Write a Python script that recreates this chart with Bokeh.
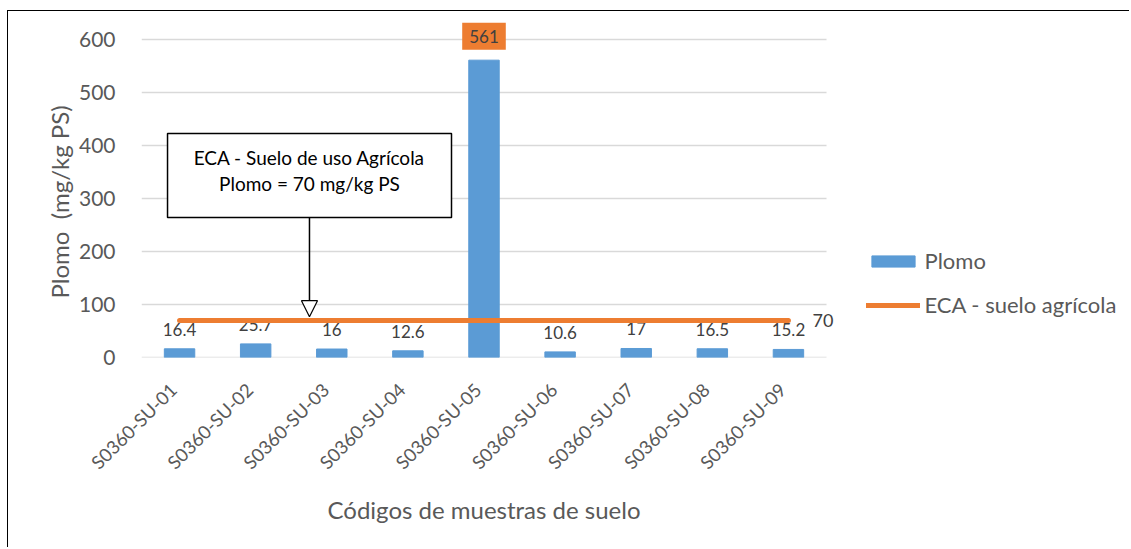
import math

from bokeh.embed import file_html
from bokeh.resources import INLINE
from bokeh.plotting import figure
from bokeh.models import (
    ColumnDataSource, FixedTicker, Range1d, Legend, LegendItem, Label,
    BoxAnnotation, Arrow, NormalHead, Title,
)
from bokeh.core.properties import value

# --- data -------------------------------------------------------------------
samples = [
    "S0360-SU-01", "S0360-SU-02", "S0360-SU-03", "S0360-SU-04", "S0360-SU-05",
    "S0360-SU-06", "S0360-SU-07", "S0360-SU-08", "S0360-SU-09",
]
plomo = [16.4, 25.7, 16.0, 12.6, 561.0, 10.6, 17.0, 16.5, 15.2]
eca_limit = 70
eca = [eca_limit] * len(samples)
y_ticks = [0, 100, 200, 300, 400, 500, 600]

# --- styling ----------------------------------------------------------------
FONT = "Lato"
BLUE = "#5b9bd5"
ORANGE = "#ed7d31"
AXIS_TXT = "#595959"
LABEL_TXT = "#404040"
GRID = "#d9d9d9"

n = len(samples)
xc = [i + 0.5 for i in range(n)]          # category centres
labels = ["" if v > 100 else f"{v:g}" for v in plomo]
src = ColumnDataSource(dict(x=xc, plomo=plomo, eca=eca, lab=labels))

# layout: the frame spans the whole area right of / above the axes so that
# the legend and outside labels stay visible; the gridded chart area covers
# the first GRID_W x GRID_H pixels of it.
FIG_W, FIG_H = 1122, 537
B_LEFT, B_RIGHT, B_TOP, B_BOTTOM = 133, 5, 4, 191
GRID_W, GRID_H = 685, 318
frame_w = FIG_W - B_LEFT - B_RIGHT
frame_h = FIG_H - B_TOP - B_BOTTOM
x_end = n * frame_w / GRID_W
y_end = y_ticks[-1] * frame_h / GRID_H

p = figure(
    width=FIG_W, height=FIG_H,
    x_range=Range1d(0, x_end), y_range=Range1d(0, y_end),
    output_backend="svg", toolbar_location=None,
    min_border_left=B_LEFT, min_border_right=B_RIGHT,
    min_border_top=B_TOP, min_border_bottom=B_BOTTOM,
    background_fill_color="white", border_fill_color="white",
)
p.outline_line_color = None
p.styles = {
    "margin-left": "7px", "margin-top": "10px",
    "border-left": "1.5px solid #000", "border-top": "1.5px solid #000",
}

# horizontal gridlines across the category area only
p.xgrid.grid_line_color = None
p.ygrid.grid_line_color = None
p.segment(x0=[0] * len(y_ticks), x1=[n] * len(y_ticks), y0=y_ticks,
          y1=y_ticks, line_color=GRID, line_width=1.3)

# y axis
p.yaxis.ticker = FixedTicker(ticks=y_ticks)
p.yaxis.axis_line_color = None
p.yaxis.major_tick_line_color = None
p.yaxis.minor_tick_line_color = None
p.yaxis.major_label_standoff = 20
p.yaxis.major_label_text_font = FONT
p.yaxis.major_label_text_font_size = "21px"
p.yaxis.major_label_text_color = AXIS_TXT

# y axis title, centred on the gridded area
p.add_layout(Title(
    text="Plomo\u00a0 (mg/kg PS)", align="left", offset=59,
    standoff=4, text_font=FONT, text_font_size="24px",
    text_font_style="normal", text_color=AXIS_TXT,
), "left")

# x axis: sample codes at the category centres (labels nudged so that
# their ends sit on the category)
label_shift = -0.08
tick_pos = [c + label_shift for c in xc]
p.xaxis.ticker = FixedTicker(ticks=tick_pos)
p.xaxis.major_label_overrides = {t: s for t, s in zip(tick_pos, samples)}
p.xaxis.axis_line_color = None
p.xaxis.major_tick_line_color = None
p.xaxis.minor_tick_line_color = None
p.xaxis.major_label_orientation = math.pi / 4
p.xaxis.major_label_standoff = 23
p.xaxis.major_label_text_font = FONT
p.xaxis.major_label_text_font_size = "18.5px"
p.xaxis.major_label_text_color = AXIS_TXT

# x axis title, centred under the category area
p.add_layout(Title(
    text="Códigos de muestras de suelo", align="left", offset=186,
    standoff=16, text_font=FONT, text_font_size="24px",
    text_font_style="normal", text_color=AXIS_TXT,
), "below")

# bars and value labels
bars = p.vbar(x="x", top="plomo", width=0.4, source=src,
              fill_color=BLUE, line_color=BLUE)
p.text(x="x", y="plomo", text="lab", source=src,
       text_font=value(FONT), text_font_size="17px", text_color=LABEL_TXT,
       text_align="center", text_baseline="bottom", y_offset=-13)

# ECA limit line
eca_line = p.line(x="x", y="eca", source=src, line_color=ORANGE,
                  line_width=5, line_cap="round")
p.add_layout(Label(
    x=xc[-1], y=eca_limit, text=f"{eca_limit}",
    x_offset=24, text_baseline="middle", text_align="left",
    text_font=FONT, text_font_size="18px", text_color=LABEL_TXT,
))

# highlighted label for the peak sample
peak = max(range(n), key=lambda i: plomo[i])
p.add_layout(Label(
    x=xc[peak], y=plomo[peak], text=f"{plomo[peak]:g}",
    y_offset=24, text_align="center", text_baseline="middle",
    text_font=FONT, text_font_size="17px", text_color=LABEL_TXT,
    background_fill_color=ORANGE, padding=7,
))

# callout describing the ECA threshold
box_l, box_r, box_t, box_b = 0.342, 4.073, 422.6, 264.2
box_cx = 2.207
p.add_layout(BoxAnnotation(
    left=box_l, right=box_r, top=box_t, bottom=box_b,
    fill_color="white", fill_alpha=1.0,
    line_color="black", line_alpha=1.0, line_width=1.5, level="overlay",
))
for txt, ty in [("ECA - Suelo de uso Agrícola", 377),
                ("Plomo = 70 mg/kg PS", 328)]:
    p.add_layout(Label(
        x=box_cx, y=ty, text=txt, text_align="center",
        text_baseline="middle", text_font=FONT, text_font_size="19px",
        text_color="black", level="overlay",
    ))
p.add_layout(Arrow(
    x_start=box_cx, y_start=box_b, x_end=box_cx, y_end=eca_limit + 7,
    line_color="black", line_width=1.5,
    end=NormalHead(size=16, fill_color="white", line_color="black",
                   line_width=1.2),
))

# legend on the right
legend = Legend(
    items=[LegendItem(label="Plomo", renderers=[bars]),
           LegendItem(label="ECA - suelo agrícola", renderers=[eca_line])],
    location=(724.5, 39),
    glyph_width=54, glyph_height=14, label_height=27, spacing=17,
    label_standoff=5, padding=0, margin=0,
    border_line_color=None, background_fill_alpha=0,
    label_text_font=FONT, label_text_font_size="22px",
    label_text_color=AXIS_TXT,
)
p.add_layout(legend, "center")

open("out.html", "w").write(file_html(p, INLINE))
